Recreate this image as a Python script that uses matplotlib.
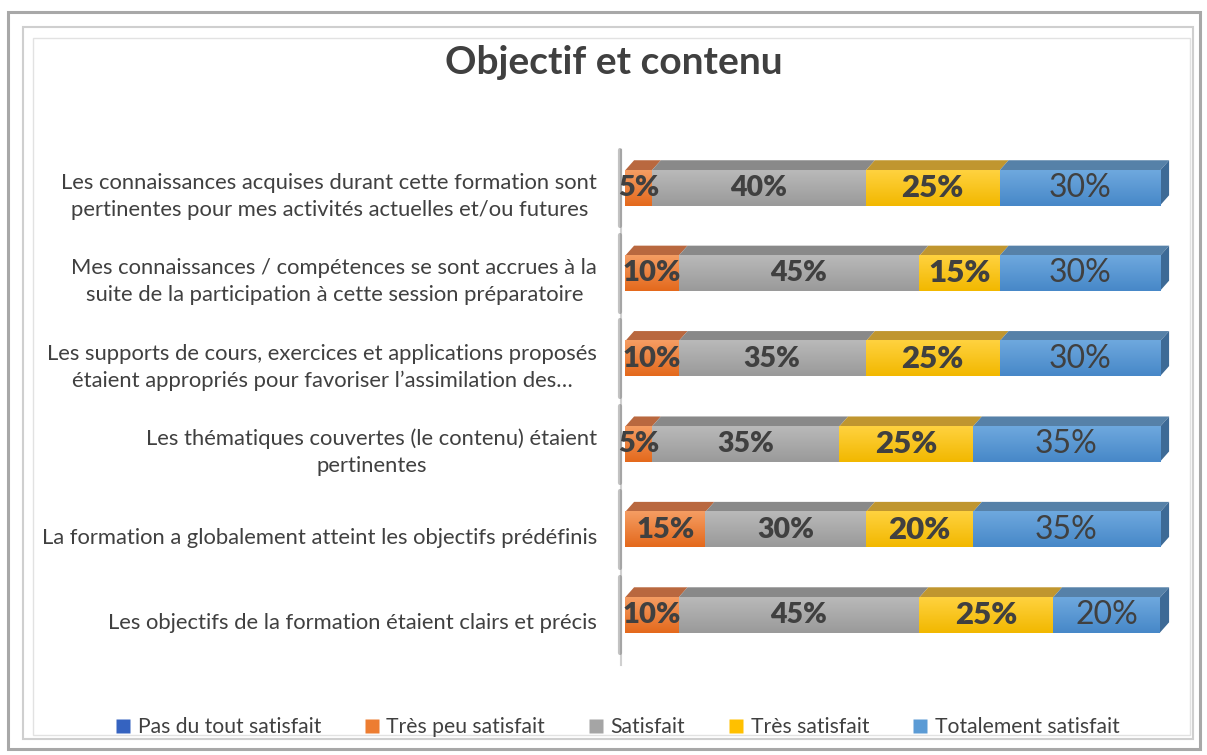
import matplotlib
matplotlib.use('Agg')
import matplotlib.pyplot as plt
import numpy as np
from matplotlib.colors import LinearSegmentedColormap
from matplotlib.patches import Polygon, Rectangle
from matplotlib.lines import Line2D

categories = [
    "Les objectifs de la formation étaient clairs et précis",
    "La formation a globalement atteint les objectifs prédéfinis",
    "Les thématiques couvertes (le contenu) étaient\npertinentes",
    "Les supports de cours, exercices et applications proposés\nétaient appropriés pour favoriser l’assimilation des…",
    "Mes connaissances / compétences se sont accrues à la\nsuite de la participation à cette session préparatoire",
    "Les connaissances acquises durant cette formation sont\npertinentes pour mes activités actuelles et/ou futures",
]
series_names = ["Pas du tout satisfait", "Très peu satisfait", "Satisfait",
                "Très satisfait", "Totalement satisfait"]
pas_du_tout = [0, 0, 0, 0, 0, 0]
tres_peu = [10, 15, 5, 10, 10, 5]
satisfait = [45, 30, 35, 35, 45, 40]
tres_satisfait = [25, 20, 25, 25, 15, 25]
totalement = [20, 35, 35, 30, 30, 30]
title = "Objectif et contenu"

FONT = "Lato"
plt.rcParams['font.family'] = [FONT, 'DejaVu Sans']

series_vals = [pas_du_tout, tres_peu, satisfait, tres_satisfait, totalement]
front_top = ["#3F6FC8", "#F59D63", "#B9B9B9", "#FFD23F", "#6EA8DE"]
front_bot = ["#2E5AAE", "#E4691C", "#9A9A9A", "#F2B800", "#4788C8"]
top_col = ["#2F4F8E", "#B9683F", "#898989", "#C0962F", "#5681A8"]
side_col = ["#23407A", "#A85520", "#777777", "#B08A10", "#3D6A96"]
legend_col = ["#3563C0", "#ED7D31", "#A5A5A5", "#FFC000", "#5B9BD5"]
lab_size = [0, 21, 20.5, 22.5, 23]
lab_weight = ["normal", "heavy", "heavy", "heavy", "normal"]
text_col = "#404040"

fig = plt.figure(figsize=(12.07, 7.55), dpi=100)
W, H = 1207, 755

# frame
def frame_rect(x0, y0, x1, y1, color, lw):
    fig.patches.append(Rectangle((x0 / W, 1 - y1 / H), (x1 - x0) / W, (y1 - y0) / H,
                                 transform=fig.transFigure, fill=False,
                                 edgecolor=color, linewidth=lw))
frame_rect(8, 12, 1200, 749, "#A8A8A8", 2.2)
frame_rect(23, 27, 1193, 739, "#CFCFCF", 1.5)
frame_rect(33, 38, 1190, 735, "#E2E2E2", 1.0)

ax = fig.add_axes([625 / W, 1 - 665 / H, 535 / W, 515 / H])
ax.set_xlim(0, 100)
ax.set_ylim(-0.585, 5.445)
ax.axis('off')

n = len(categories)
ypos = np.arange(n)
h = 0.41
dx, dy = 1.7, 0.12

for i in range(n):
    left = 0.0
    segs = []
    for s in range(len(series_vals)):
        v = series_vals[s][i]
        if v > 0:
            segs.append((s, left, v))
        left += v
    # top faces
    for s, l, v in segs:
        y0 = ypos[i] + h / 2
        poly = Polygon([(l, y0), (l + v, y0), (l + v + dx, y0 + dy), (l + dx, y0 + dy)],
                       closed=True, facecolor=top_col[s], edgecolor='none', zorder=2,
                       clip_on=False)
        ax.add_patch(poly)
    # front faces with gradient
    for s, l, v in segs:
        cmap = LinearSegmentedColormap.from_list("g", [front_bot[s], front_top[s]])
        grad = np.linspace(0, 1, 50).reshape(-1, 1)
        ax.imshow(grad, cmap=cmap, aspect='auto', origin='lower',
                  extent=(l, l + v, ypos[i] - h / 2, ypos[i] + h / 2), zorder=3)
    # side face of last segment
    s, l, v = segs[-1]
    r = l + v
    y0 = ypos[i] - h / 2
    y1 = ypos[i] + h / 2
    ax.add_patch(Polygon([(r, y0), (r + dx, y0 + dy), (r + dx, y1 + dy), (r, y1)],
                         closed=True, facecolor=side_col[s], edgecolor='none', zorder=2,
                         clip_on=False))
    # labels
    for s, l, v in segs:
        ax.text(l + v / 2, ypos[i], f"{v}%", ha='center', va='center',
                fontsize=lab_size[s], fontweight=lab_weight[s], color=text_col, zorder=5)
    # left shadow stub
    ax.plot([-0.9, -0.9], [ypos[i] - 0.45, ypos[i] + 0.45], color="#555555",
            lw=3, alpha=0.35, solid_capstyle='round', zorder=1, clip_on=False)

# vertical axis line
ax.plot([-0.8, -0.8], [-0.585, 5.445], color="#D0D0D0", lw=1.5, clip_on=False, zorder=0)

# category labels
for i in range(n):
    ax.annotate(categories[i], xy=(0, ypos[i]), xycoords='data',
                xytext=(-20, -6), textcoords='offset points',
                ha='right', va='center', multialignment='center',
                fontsize=15.8, color=text_col, linespacing=1.42)

# title
fig.text(614 / W, 1 - 62 / H, title, ha='center', va='center', fontsize=28,
         fontweight='bold', color=text_col)

# legend
handles = [Line2D([], [], marker='s', linestyle='none', markersize=10,
                  markerfacecolor=legend_col[k], markeredgecolor='none')
           for k in range(len(series_names))]
fig.legend(handles, series_names, loc='center', bbox_to_anchor=(618 / W, 1 - 727 / H),
           ncol=5, frameon=False, fontsize=15.2, handlelength=0.6, handletextpad=0.4,
           columnspacing=2.1, labelcolor=text_col)

fig.savefig("out.png", dpi=100, facecolor='white')
